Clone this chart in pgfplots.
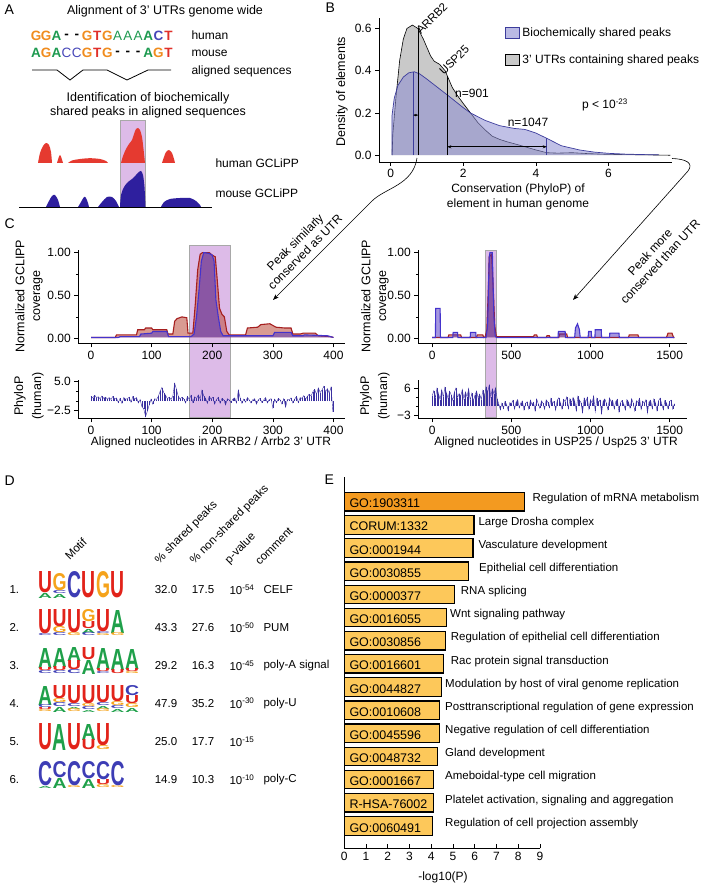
\documentclass[border=0pt]{standalone}
\usepackage{fontspec}
\setmainfont{Liberation Sans}
\usepackage{graphicx}
\usepackage{pgfplots}
\usepackage{pgfplotstable}
\pgfplotsset{compat=1.18}
\usetikzlibrary{arrows.meta}
\newcommand{\fs}[1]{\fontsize{#1}{#1}\selectfont}
\definecolor{sO}{HTML}{F08C1E}
\definecolor{sG}{HTML}{1E9A50}
\definecolor{sB}{HTML}{4646B8}
\definecolor{sR}{HTML}{E0302A}
\definecolor{hred}{HTML}{E53A30}
\definecolor{mblue}{HTML}{2E1F9E}
\definecolor{hl}{HTML}{DDBBE8}
\definecolor{hlb}{HTML}{A8A8A8}
\definecolor{lav}{HTML}{8C8CD2}
\definecolor{lavline}{HTML}{3C3C9C}
\definecolor{grayd}{HTML}{C9C9C9}
\definecolor{redfill}{HTML}{C0584A}
\definecolor{redline}{HTML}{A51E1E}
\definecolor{bluefill}{HTML}{4B2FC0}
\definecolor{blueline}{HTML}{4433CC}
\definecolor{phylo}{HTML}{3A30A0}
\definecolor{lgU}{HTML}{E2231A}
\definecolor{lgG}{HTML}{F5A31B}
\definecolor{lgC}{HTML}{3D3DB5}
\definecolor{lgA}{HTML}{1FA04A}
\definecolor{eo1}{HTML}{F39A20}
\definecolor{eo2}{HTML}{FDC85A}
\newcommand{\LL}[5]{\node[anchor=south west,inner sep=0pt,outer sep=0pt,text=#1] at (#3pt,-#4pt) {\resizebox{14pt}{#5pt}{\bfseries #2}};}
\pgfplotsset{every axis/.append style={/pgf/number format/assume math mode=true, tick label style={font=\fs{12}}, axis line style={-, line width=0.6pt}, tick style={line width=0.6pt, black}, major tick length=4pt, minor tick length=2.5pt}}
\pgfplotstableread{
x y
0 1.2
3 0.8
6 1.5
9 0.9
12 1.1
15 0.6
18 1.3
21 0.7
24 1.0
27 0.5
30 0.9
33 0.4
36 1.2
39 0.6
42 0.8
45 -0.4
48 0.7
51 -0.6
54 0.9
57 0.5
60 0.6
63 1.0
66 -0.3
69 1.2
72 0.5
75 0.9
78 -0.5
81 0.4
84 -1.5
87 -2.0
90 -4.0
93 -2.6
96 -1.0
99 0.5
102 -0.8
105 0.6
108 0.4
111 1.2
114 2.5
117 3.5
120 2.2
123 1.5
126 0.6
129 1.0
132 0.4
135 1.3
138 4.6
141 3.0
144 1.2
147 0.5
150 1.0
153 0.6
156 -0.5
159 1.2
162 0.4
165 1.5
168 -0.4
171 1.1
174 0.6
177 1.6
180 0.5
183 2.8
186 1.3
189 0.7
192 -0.6
195 1.2
198 0.5
201 1.0
204 -0.8
207 0.4
210 1.0
213 -0.6
216 0.7
219 0.3
222 -1.0
225 0.6
228 0.3
231 -0.4
234 0.5
237 0.8
240 -0.5
243 2.8
246 0.8
249 -0.6
252 0.5
255 -0.3
258 0.9
261 0.3
264 -0.5
267 0.4
270 0.6
273 -0.8
276 0.3
279 0.7
282 -0.4
285 0.3
288 0.9
291 -0.5
294 0.4
297 0.6
300 -1.8
303 0.5
306 -0.4
309 0.7
312 0.3
315 -0.8
318 0.6
321 -1.6
324 0.4
327 0.3
330 0.8
333 -0.5
336 0.5
339 1.2
342 -0.4
345 0.9
348 0.7
351 1.4
354 0.5
357 1.2
360 1.8
363 1.3
366 2.4
369 3.0
372 1.7
375 3.4
378 2.2
381 2.8
384 3.8
387 2.4
390 3.2
393 2.0
396 3.6
399 -2.8
}\phyL
\pgfplotstableread{
x y
0 3.5
10 5.2
20 2.8
30 6.0
40 4.1
50 2.2
60 5.5
70 3.0
80 6.3
90 4.4
100 2.6
110 5.0
120 3.8
130 1.9
140 4.7
150 6.1
160 2.9
170 4.2
180 3.3
190 5.6
200 2.4
210 4.8
220 3.1
230 5.9
240 2.0
250 4.3
260 1.6
270 3.7
280 5.1
290 2.7
300 4.0
310 2.2
320 5.3
330 3.4
340 6.5
350 4.6
360 7.0
370 3.2
380 5.8
390 4.1
400 6.2
410 2.5
420 0.8
430 -1.2
440 1.0
450 -0.8
460 1.6
470 0.5
480 -1.5
490 1.2
500 0.7
510 1.9
520 -1.0
530 1.4
540 2.2
550 -0.6
560 1.1
570 1.7
580 -1.3
590 0.9
600 1.5
610 -0.9
620 2.0
630 0.6
640 1.3
650 -1.6
660 2.4
670 0.8
680 -0.7
690 1.8
700 1.0
710 -1.1
720 2.1
730 1.4
740 -0.5
750 2.6
760 0.9
770 1.6
780 -1.4
790 2.0
800 2.8
810 1.1
820 -1.0
830 2.3
840 1.5
850 3.1
860 -0.8
870 2.5
880 1.2
890 2.9
900 1.8
910 -1.5
920 3.3
930 2.0
940 1.2
950 -2.2
960 2.7
970 1.4
980 3.0
990 -1.0
1000 2.2
1010 1.0
1020 3.4
1030 -1.8
1040 2.6
1050 1.3
1060 2.1
1070 -2.5
1080 1.7
1090 2.4
1100 1.1
1110 -1.2
1120 2.8
1130 1.5
1140 2.0
1150 -0.9
1160 1.6
1170 2.3
1180 -2.0
1190 1.2
1200 1.9
1210 0.8
1220 -1.3
1230 2.2
1240 1.4
1250 -0.7
1260 2.5
1270 1.0
1280 -1.6
1290 1.8
1300 1.3
1310 2.6
1320 -1.1
1330 1.7
1340 0.9
1350 2.1
1360 -2.3
1370 1.5
1380 2.0
1390 -0.8
1400 2.4
1410 1.2
1420 -1.5
1430 1.8
1440 2.7
1450 0.8
1460 -1.2
1470 1.9
1480 1.1
1490 -0.9
1500 1.6
1510 2.0
1520 -1.0
1530 0.8
}\phyR
\begin{document}
\begin{tikzpicture}
\useasboundingbox (0pt,0pt) rectangle (708pt,-885pt);
% ---------------- highlights
\fill[hl, draw=hlb, line width=0.8pt] (120pt,-120pt) rectangle (145pt,-207pt);
\fill[hl, draw=hlb, line width=1pt] (189pt,-245pt) rectangle (230.7pt,-417pt);
\fill[hl, draw=hlb, line width=1pt] (485pt,-250pt) rectangle (496.7pt,-417pt);
% ---------------- panel A
\node[anchor=west, font=\fs{14}] at (1pt,-10pt) {A};
\node[font=\fs{12.5}] at (165pt,-11pt) {Alignment of 3' UTRs genome wide};
\begin{scope}[font=\fs{13.5}\bfseries]
\node[text=sO] at (36pt,-36pt) {G};
\node[text=sO] at (46.2pt,-36pt) {G};
\node[text=sG] at (56.4pt,-36pt) {A};
\node[text=black] at (66.6pt,-36pt) {-};
\node[text=black] at (76.8pt,-36pt) {-};
\node[text=sO] at (87pt,-36pt) {G};
\node[text=sR] at (97.2pt,-36pt) {T};
\node[text=sO] at (107.4pt,-36pt) {G};
\node[text=sG, font=\fs{13.5}\mdseries] at (117.6pt,-36pt) {A};
\node[text=sG, font=\fs{13.5}\mdseries] at (127.8pt,-36pt) {A};
\node[text=sG, font=\fs{13.5}\mdseries] at (138pt,-36pt) {A};
\node[text=sG] at (148.2pt,-36pt) {A};
\node[text=sB] at (158.4pt,-36pt) {C};
\node[text=sR] at (168.6pt,-36pt) {T};
\node[text=sG] at (36pt,-53pt) {A};
\node[text=sO] at (46.2pt,-53pt) {G};
\node[text=sG] at (56.4pt,-53pt) {A};
\node[text=sB, font=\fs{13.5}\mdseries] at (66.6pt,-53pt) {C};
\node[text=sB, font=\fs{13.5}\mdseries] at (76.8pt,-53pt) {C};
\node[text=sO] at (87pt,-53pt) {G};
\node[text=sR] at (97.2pt,-53pt) {T};
\node[text=sO] at (107.4pt,-53pt) {G};
\node[text=black] at (117.6pt,-53pt) {-};
\node[text=black] at (127.8pt,-53pt) {-};
\node[text=black] at (138pt,-53pt) {-};
\node[text=sG] at (148.2pt,-53pt) {A};
\node[text=sO] at (158.4pt,-53pt) {G};
\node[text=sR] at (168.6pt,-53pt) {T};
\end{scope}
\draw[line width=0.8pt] (32pt,-70pt) -- (57pt,-70pt) -- (70pt,-80pt) -- (83pt,-70pt) -- (107pt,-70pt) -- (127pt,-80pt) -- (148pt,-70pt) -- (171pt,-70pt);
\node[anchor=west, font=\fs{12}] at (188pt,-35pt) {human};
\node[anchor=west, font=\fs{12}] at (188pt,-53pt) {mouse};
\node[anchor=west, font=\fs{12}] at (188pt,-71pt) {aligned sequences};
\node[font=\fs{12.5}] at (148pt,-98pt) {Identification of biochemically};
\node[font=\fs{12.5}] at (148pt,-112.5pt) {shared peaks in aligned sequences};
\node[anchor=west, font=\fs{12}] at (212pt,-163pt) {human GCLiPP};
\node[anchor=west, font=\fs{12}] at (212pt,-193pt) {mouse GCLiPP};
\begin{axis}[at={(19pt,-207pt)}, anchor=south west, scale only axis, width=193pt, height=87pt,
  xmin=19, xmax=212, ymin=0, ymax=87, hide axis, clip=false]
\addplot[fill=hred, draw=none, smooth, tension=0.5] coordinates {(38,44)(40,54)(43,61)(46,64)(49,62)(51,55)(52,44)};
\addplot[fill=hred, draw=none, smooth, tension=0.5] coordinates {(57,44)(58.5,49)(60,52)(61.5,49)(63,44)};
\addplot[fill=hred, draw=none, smooth, tension=0.5] coordinates {(68,44)(72,46.5)(80,48)(90,48.8)(100,48)(106,46)(108,44)};
\addplot[fill=hred, draw=none, smooth, tension=0.5] coordinates {(121,44)(123,51)(126,58)(129,63)(132,67)(134,73)(136,78)(138,79)(140,77)(142,70)(143.5,58)(145,44)};
\addplot[fill=hred, draw=none, smooth, tension=0.5] coordinates {(162,44)(164,50)(166,55)(169,57)(172,54)(174,48)(175,44)};
\addplot[fill=mblue, draw=none, smooth, tension=0.5] coordinates {(46,0)(49,6)(52,11)(55,12)(58,7)(60,0)};
\addplot[fill=mblue, draw=none, smooth, tension=0.5] coordinates {(78,0)(81,5)(84,10)(86,9)(88,4)(89,0)};
\addplot[fill=mblue, draw=none, smooth, tension=0.5] coordinates {(98,0)(102,5)(107,10)(112,10)(116,6)(119,0)};
\addplot[fill=mblue, draw=none, smooth, tension=0.5] coordinates {(120,0)(121,12)(124,20)(128,25)(132,28)(136,32)(139,35)(141,36)(143,32)(144.5,20)(145.5,0)};
\addplot[fill=mblue, draw=none, smooth, tension=0.5] coordinates {(161,0)(164,5)(170,8)(180,9)(190,9)(196,6)(200,2)(201,0)};
\addplot[black, line width=0.8pt] coordinates {(19,0)(212,0)};
\end{axis}
% ---------------- panel B
\node[anchor=west, font=\fs{14}] at (322pt,-8pt) {B};
\begin{axis}[at={(379pt,-162pt)}, anchor=south west, scale only axis, width=292.7pt, height=143.7pt,
  xmin=-0.32, xmax=7.74, ymin=-0.032, ymax=0.648, axis x line*=bottom, axis y line*=left,
  tick align=outside, xtick={0,2,4,6}, xticklabels={0,2,4,6}, ytick={0,0.2,0.4,0.6},
  yticklabels={0.0,0.2,0.4,0.6}, clip=false,
  legend style={at={(rel axis cs:0.43,0.955)}, anchor=north west, draw=none, fill=none, font=\fs{12}, row sep=12pt, inner sep=0pt, nodes={inner sep=2.5pt}},
  legend cell align=left,
  legend image code/.code={\draw[#1] (0pt,-5.5pt) rectangle (14pt,5.5pt);}]
\addlegendimage{fill=lav, fill opacity=0.6, draw=lavline, line width=0.8pt}
\addlegendentry{Biochemically shared peaks}
\addlegendimage{fill=grayd, draw=black, line width=0.8pt}
\addlegendentry{3' UTRs containing shared peaks}
\addplot[fill=grayd, draw=black, line width=0.6pt, forget plot] coordinates {(0.04,0.0)(0.06,0.10)(0.15,0.28)(0.25,0.45)(0.35,0.55)(0.45,0.60)(0.6,0.616)(0.75,0.60)(0.9,0.55)(1.0,0.51)(1.1,0.47)(1.2,0.445)(1.35,0.43)(1.5,0.40)(1.6,0.36)(1.7,0.32)(1.85,0.28)(2.0,0.245)(2.2,0.20)(2.4,0.155)(2.6,0.12)(2.8,0.09)(3.0,0.075)(3.2,0.064)(3.5,0.05)(3.8,0.035)(4.0,0.025)(4.3,0.012)(4.6,0.01)(5.0,0.012)(5.4,0.008)(6.0,0.004)(7.0,0.002)(7.7,0.0)};
\addplot[fill=lav, fill opacity=0.55, draw=lavline, line width=0.7pt, forget plot] coordinates {(0.04,0.0)(0.04,0.19)(0.1,0.27)(0.2,0.33)(0.35,0.37)(0.5,0.39)(0.65,0.395)(0.8,0.385)(1.0,0.36)(1.3,0.32)(1.6,0.28)(2.0,0.225)(2.2,0.2)(2.6,0.165)(3.0,0.14)(3.4,0.127)(3.7,0.122)(4.0,0.105)(4.3,0.08)(4.7,0.045)(5.2,0.025)(5.6,0.015)(6.0,0.009)(6.5,0.005)(7.0,0.003)(7.37,0.002)(7.37,0)};
\addplot[lavline, line width=0.9pt, forget plot] coordinates {(0.62,0)(0.62,0.395)};
\addplot[black, line width=0.9pt, forget plot] coordinates {(0.76,0)(0.76,0.60)};
\addplot[black, line width=0.9pt, forget plot] coordinates {(1.56,0)(1.56,0.377)};
\addplot[lavline, line width=0.9pt, forget plot] coordinates {(4.3,0)(4.3,0.08)};
\draw[{Stealth[length=3pt]}-{Stealth[length=3pt]}, line width=0.6pt] (axis cs:0.62,0.19) -- (axis cs:0.76,0.19);
\draw[{Stealth[length=4pt]}-{Stealth[length=4pt]}, line width=0.6pt] (axis cs:1.56,0.04) -- (axis cs:4.3,0.04);
\end{axis}
\node[rotate=90, font=\fs{12.5}] at (342pt,-92pt) {Density of elements};
\node[font=\fs{12}] at (518pt,-189pt) {Conservation (PhyloP) of};
\node[font=\fs{12}] at (518pt,-204pt) {element in human genome};
\node[rotate=45, anchor=base west, inner sep=0pt, font=\fs{11.5}] at (421pt,-35pt) {ARRB2};
\node[rotate=45, anchor=base west, inner sep=0pt, font=\fs{11.5}] at (444pt,-76pt) {USP25};
\node[font=\fs{12}] at (472pt,-93pt) {n=901};
\node[font=\fs{12}] at (528pt,-122.5pt) {n=1047};
\node[font=\fs{12}] at (605pt,-105pt) {p < 10\textsuperscript{-23}};
% arrows B -> C
\draw[line width=0.6pt, -{Stealth[length=6pt,width=4.5pt]}] (417pt,-158pt) .. controls (413pt,-185pt) and (385pt,-188pt) .. (372pt,-201pt) -- (273pt,-300pt);
\draw[line width=0.6pt, -{Stealth[length=6pt,width=4.5pt]}] (672pt,-158.5pt) .. controls (686pt,-159pt) and (694pt,-163pt) .. (688pt,-171pt) -- (573pt,-300pt);
\node[rotate=45, align=center, font=\fontsize{12}{14}\selectfont] at (300pt,-247pt) {Peak similarly\\conserved as UTR};
\node[rotate=47, align=center, font=\fontsize{12}{14}\selectfont] at (655pt,-257pt) {Peak more\\conserved than UTR};
% ---------------- panel C
\node[anchor=west, font=\fs{14}] at (1pt,-224pt) {C};
\begin{axis}[at={(78.3pt,-343.3pt)}, anchor=south west, scale only axis, width=266.7pt, height=93.3pt,
  xmin=-21, xmax=419, ymin=-0.058, ymax=1.03, axis x line*=bottom, axis y line*=left,
  tick align=outside, xtick={0,100,200,300,400}, xticklabels={0,100,200,300,400},
  ytick={0,0.5,1}, yticklabels={0.00,0.50,1.00}, minor ytick={0.25,0.75}, clip=false]
\addplot[fill=redfill, fill opacity=0.6, draw=redline, line width=1.1pt] coordinates {(0,0.01)(40,0.01)(42,0.04)(75,0.04)(77,0.10)(88,0.10)(90,0.12)(100,0.12)(102,0.10)(125,0.10)(127,0.05)(135,0.05)(138,0.20)(142,0.23)(150,0.25)(158,0.24)(160,0.06)(168,0.06)(172,0.40)(176,0.80)(180,0.98)(184,1.0)(195,1.0)(200,0.97)(205,0.95)(208,0.70)(212,0.35)(216,0.28)(220,0.25)(224,0.08)(228,0.04)(255,0.04)(258,0.12)(275,0.13)(280,0.16)(295,0.17)(305,0.13)(320,0.12)(330,0.12)(333,0.05)(345,0.05)(350,0.06)(370,0.06)(375,0.03)(395,0.02)(400,0.01)};
\addplot[fill=bluefill, fill opacity=0.5, draw=blueline, line width=1.1pt] coordinates {(0,0.01)(45,0.01)(48,0.02)(80,0.02)(82,0.05)(100,0.06)(102,0.08)(125,0.08)(128,0.02)(165,0.02)(170,0.05)(174,0.25)(178,0.55)(182,0.9)(186,1.0)(195,0.99)(200,0.97)(203,0.9)(206,0.45)(210,0.25)(214,0.08)(218,0.03)(300,0.03)(303,0.07)(330,0.07)(333,0.03)(350,0.03)(352,0.04)(390,0.03)(400,0.01)};
\end{axis}
\begin{axis}[at={(78.3pt,-418.3pt)}, anchor=south west, scale only axis, width=266.7pt, height=38.3pt,
  xmin=-21, xmax=419, ymin=-4.46, ymax=5.44, axis x line*=bottom, axis y line*=left,
  tick align=outside, xtick={0,100,200,300,400}, xticklabels={0,100,200,300,400},
  ytick={-2.5,5}, yticklabels={−2.5,5.0}, minor ytick={0,2.5}, clip=false]
\addplot[ycomb, phylo, line width=0.5pt, mark=none] table {\phyL};
\addplot[phylo, line width=0.4pt, mark=none] table {\phyL};
\end{axis}
\node[rotate=90, font=\fs{12.5}] at (20pt,-296pt) {Normalized GCLIPP};
\node[rotate=90, font=\fs{12.5}] at (38pt,-296pt) {coverage};
\node[rotate=90, font=\fs{12.5}] at (20pt,-396pt) {PhyloP};
\node[rotate=90, font=\fs{12.5}] at (38pt,-396pt) {(human)};
\node[font=\fs{12}] at (211pt,-442pt) {Aligned nucleotides in ARRB2 / Arrb2 3' UTR};
\begin{axis}[at={(418.3pt,-343.3pt)}, anchor=south west, scale only axis, width=268.4pt, height=93.3pt,
  xmin=-88, xmax=1608, ymin=-0.058, ymax=1.03, axis x line*=bottom, axis y line*=left,
  tick align=outside, xtick={0,500,1000,1500}, xticklabels={0,500,1000,1500},
  ytick={0,0.5,1}, yticklabels={0.00,0.50,1.00}, minor ytick={0.25,0.75}, clip=false]
\addplot[fill=redfill, fill opacity=0.6, draw=redline, line width=1.1pt] coordinates {(0,0.01)(100,0.01)(105,0.04)(180,0.04)(185,0.01)(280,0.01)(285,0.04)(320,0.04)(325,0.01)(335,0.02)(345,0.10)(355,0.6)(360,0.95)(375,0.98)(385,0.6)(395,0.15)(405,0.02)(640,0.02)(645,0.04)(660,0.04)(665,0.01)(720,0.01)(725,0.03)(740,0.03)(745,0.01)(800,0.01)(805,0.05)(850,0.05)(855,0.01)(1240,0.01)(1245,0.04)(1300,0.04)(1305,0.01)(1480,0.01)(1490,0.06)(1515,0.06)(1525,0.01)(1530,0.01)};
\addplot[fill=bluefill, fill opacity=0.5, draw=blueline, line width=1.1pt] coordinates {(0,0.01)(20,0.01)(22,0.35)(50,0.35)(52,0.01)(130,0.01)(132,0.07)(160,0.07)(162,0.01)(240,0.01)(242,0.07)(275,0.07)(277,0.01)(340,0.01)(350,0.15)(355,0.55)(360,0.95)(365,1.0)(380,1.0)(385,0.6)(390,0.25)(398,0.03)(405,0.01)(795,0.01)(797,0.08)(840,0.08)(842,0.01)(900,0.01)(905,0.12)(918,0.17)(930,0.10)(935,0.01)(985,0.01)(988,0.08)(1005,0.08)(1007,0.01)(1028,0.01)(1030,0.10)(1068,0.10)(1070,0.01)(1120,0.01)(1122,0.06)(1180,0.06)(1182,0.01)(1530,0.01)};
\end{axis}
\begin{axis}[at={(418.3pt,-418.3pt)}, anchor=south west, scale only axis, width=268.4pt, height=38.3pt,
  xmin=-88, xmax=1608, ymin=-4.1, ymax=8.8, axis x line*=bottom, axis y line*=left,
  tick align=outside, xtick={0,500,1000,1500}, xticklabels={0,500,1000,1500},
  ytick={-3,6}, yticklabels={−3,6}, minor ytick={0,3}, clip=false]
\addplot[ycomb, phylo, line width=0.5pt, mark=none] table {\phyR};
\addplot[phylo, line width=0.4pt, mark=none] table {\phyR};
\end{axis}
\node[rotate=90, font=\fs{12.5}] at (366pt,-296pt) {Normalized GCLIPP};
\node[rotate=90, font=\fs{12.5}] at (384pt,-296pt) {coverage};
\node[rotate=90, font=\fs{12.5}] at (366pt,-396pt) {PhyloP};
\node[rotate=90, font=\fs{12.5}] at (384pt,-396pt) {(human)};
\node[font=\fs{12}] at (556pt,-442pt) {Aligned nucleotides in USP25 / Usp25 3' UTR};
% ---------------- panel D
\node[anchor=west, font=\fs{14}] at (1pt,-481pt) {D};
\begin{scope}[font=\fs{11.5}]
\node[rotate=45, anchor=south west, inner sep=0pt] at (70pt,-561pt) {Motif};
\node[rotate=45, anchor=south west, inner sep=0pt] at (161pt,-566pt) {\% shared peaks};
\node[rotate=45, anchor=south west, inner sep=0pt] at (196pt,-566pt) {\% non-shared peaks};
\node[rotate=45, anchor=south west, inner sep=0pt] at (231pt,-566pt) {p-value};
\node[rotate=45, anchor=south west, inner sep=0pt] at (260pt,-566pt) {comment};
\foreach \n/\y/\a/\b/\p/\c in {1/590/32.0/17.5/-54/CELF, 2/627.7/43.3/27.6/-50/PUM, 3/666/29.2/16.3/-45/poly-A signal, 4/703.3/47.9/35.2/-30/poly-U, 5/741.7/25.0/17.7/-15/, 6/780/14.9/10.3/-10/poly-C}{
  \node[anchor=west] at (6pt,-\y pt) {\n.};
  \node at (166pt,-\y pt) {\a};
  \node at (203pt,-\y pt) {\b};
  \node[anchor=west] at (226pt,-\y pt) {10\textsuperscript{\p}};
  \node[anchor=west] at (260pt,-\y pt) {\c};
}
\end{scope}
% logos row 1
\LL{lgU}{U}{38}{593}{21} \LL{lgA}{A}{38}{598}{5}
\LL{lgG}{G}{52.5}{591}{17} \LL{lgC}{C}{52.5}{594}{3} \LL{lgA}{A}{52.5}{598}{4}
\LL{lgC}{C}{67}{598}{26} \LL{lgU}{U}{81.5}{598}{26} \LL{lgG}{G}{96}{598}{26} \LL{lgU}{U}{110.5}{598}{26}
% row 2
\LL{lgU}{U}{38}{634}{24} \LL{lgC}{C}{38}{636}{2}
\LL{lgU}{U}{52.5}{627}{17} \LL{lgG}{G}{52.5}{633}{6} \LL{lgC}{C}{52.5}{636}{3}
\LL{lgU}{U}{67}{633}{23} \LL{lgG}{G}{67}{636}{3}
\LL{lgG}{G}{81.5}{622}{12} \LL{lgU}{U}{81.5}{629}{7} \LL{lgA}{A}{81.5}{633}{4} \LL{lgC}{C}{81.5}{636}{3}
\LL{lgU}{U}{96}{632}{22} \LL{lgC}{C}{96}{634}{2} \LL{lgG}{G}{96}{636}{2}
\LL{lgA}{A}{110.5}{633}{23} \LL{lgG}{G}{110.5}{636}{3}
% row 3
\LL{lgA}{A}{38}{668}{20} \LL{lgU}{U}{38}{671}{3} \LL{lgC}{C}{38}{674}{3}
\LL{lgA}{A}{52.5}{667}{19} \LL{lgU}{U}{52.5}{671}{4} \LL{lgC}{C}{52.5}{674}{3}
\LL{lgA}{A}{67}{661}{14} \LL{lgU}{U}{67}{670}{9} \LL{lgC}{C}{67}{674}{4}
\LL{lgU}{U}{81.5}{660}{12} \LL{lgA}{A}{81.5}{674}{14}
\LL{lgA}{A}{96}{669}{21} \LL{lgU}{U}{96}{672}{3} \LL{lgC}{C}{96}{674}{2}
\LL{lgA}{A}{110.5}{670}{21} \LL{lgU}{U}{110.5}{674}{4}
\LL{lgA}{A}{125}{669}{20} \LL{lgU}{U}{125}{672}{3} \LL{lgG}{G}{125}{674}{2}
% row 4
\LL{lgA}{A}{38}{705}{19} \LL{lgC}{C}{38}{708}{3} \LL{lgU}{U}{38}{710}{2} \LL{lgG}{G}{38}{712}{2}
\LL{lgU}{U}{52.5}{699}{13} \LL{lgG}{G}{52.5}{703}{4} \LL{lgC}{C}{52.5}{707}{4} \LL{lgA}{A}{52.5}{712}{5}
\LL{lgU}{U}{67}{704}{18} \LL{lgC}{C}{67}{707}{3} \LL{lgA}{A}{67}{709}{2} \LL{lgG}{G}{67}{712}{3}
\LL{lgU}{U}{81.5}{704}{18} \LL{lgG}{G}{81.5}{707}{3} \LL{lgC}{C}{81.5}{710}{3} \LL{lgA}{A}{81.5}{712}{2}
\LL{lgU}{U}{96}{703}{17} \LL{lgC}{C}{96}{706}{3} \LL{lgA}{A}{96}{709}{3} \LL{lgG}{G}{96}{712}{3}
\LL{lgU}{U}{110.5}{702}{16} \LL{lgG}{G}{110.5}{706}{4} \LL{lgC}{C}{110.5}{709}{3} \LL{lgA}{A}{110.5}{712}{3}
\LL{lgC}{C}{125}{696}{10} \LL{lgU}{U}{125}{704}{8} \LL{lgG}{G}{125}{708}{4} \LL{lgA}{A}{125}{712}{4}
% row 5
\LL{lgU}{U}{38}{750}{26} \LL{lgA}{A}{52.5}{750}{26} \LL{lgU}{U}{67}{750}{26}
\LL{lgA}{A}{81.5}{740}{16} \LL{lgU}{U}{81.5}{750}{10}
\LL{lgU}{U}{96}{746}{22} \LL{lgG}{G}{96}{750}{4}
% row 6
\LL{lgC}{C}{38}{786}{24} \LL{lgA}{A}{38}{788}{2}
\LL{lgC}{C}{52.5}{778}{16} \LL{lgA}{A}{52.5}{788}{10}
\LL{lgC}{C}{67}{786}{24} \LL{lgG}{G}{67}{788}{2}
\LL{lgC}{C}{81.5}{779}{17} \LL{lgA}{A}{81.5}{788}{9}
\LL{lgC}{C}{96}{780}{18} \LL{lgU}{U}{96}{785}{5} \LL{lgG}{G}{96}{788}{3}
\LL{lgC}{C}{110.5}{786}{24} \LL{lgG}{G}{110.5}{788}{2}
% ---------------- panel E
\node[anchor=west, font=\fs{14}] at (321pt,-480pt) {E};
\begin{axis}[at={(344.3pt,-848.3pt)}, anchor=south west, scale only axis, width=195.7pt, height=371.6pt,
  xmin=0, xmax=9, ymin=0.035, ymax=16.08, axis x line*=bottom, axis y line*=left,
  ytick=\empty, xtick={0,1,2,3,4,5,6,7,8,9}, tick align=inside,
  xbar, bar width=18.5pt, bar shift=0pt, clip=false]
\addplot[fill=eo1, draw=black, line width=1.2pt] coordinates {(8.28,15)};
\addplot[fill=eo2, draw=black, line width=1.2pt] coordinates {(5.96,14)(5.92,13)(5.70,12)(5.06,11)(4.71,10)(4.65,9)(4.55,8)(4.46,7)(4.37,6)(4.37,5)(4.28,4)(4.11,3)(4.09,2)(4.05,1)};
\end{axis}
\begin{scope}[x=1pt, y=-1pt, font=\fs{12.5}]
\foreach \v/\t in {15/GO:1903311, 14/CORUM:1332, 13/GO:0001944, 12/GO:0030855, 11/GO:0000377, 10/GO:0016055, 9/GO:0030856, 8/GO:0016601, 7/GO:0044827, 6/GO:0010608, 5/GO:0045596, 4/GO:0048732, 3/GO:0001667, 2/R-HSA-76002, 1/GO:0060491}{
  \node[anchor=west, inner sep=0pt] at (349.3, {503.5+(15-\v)*23.16}) {\t};
}
\end{scope}
\begin{scope}[x=1pt, y=-1pt, font=\fs{11.5}]
\foreach \x/\v/\t in {532.3/15/Regulation of mRNA metabolism, 478.3/14/Large Drosha complex, 478.3/13/Vasculature development, 479/12/Epithelial cell differentiation, 460.7/11/RNA splicing, 450/10/Wnt signaling pathway, 450.7/9/Regulation of epithelial cell differentiation, 450.7/8/Rac protein signal transduction, 445/7/Modulation by host of viral genome replication, 445/6/Posttranscriptional regulation of gene expression, 445/5/Negative regulation of cell differentiation, 445/4/Gland development, 445/3/Ameboidal-type cell migration, 445/2/{Platelet activation, signaling and aggregation}, 445/1/Regulation of cell projection assembly}{
  \node[anchor=west, inner sep=0pt] at (\x, {499+(15-\v)*23.16}) {\t};
}
\end{scope}
\node[font=\fs{12}] at (443pt,-877pt) {-log10(P)};
\end{tikzpicture}
\end{document}
